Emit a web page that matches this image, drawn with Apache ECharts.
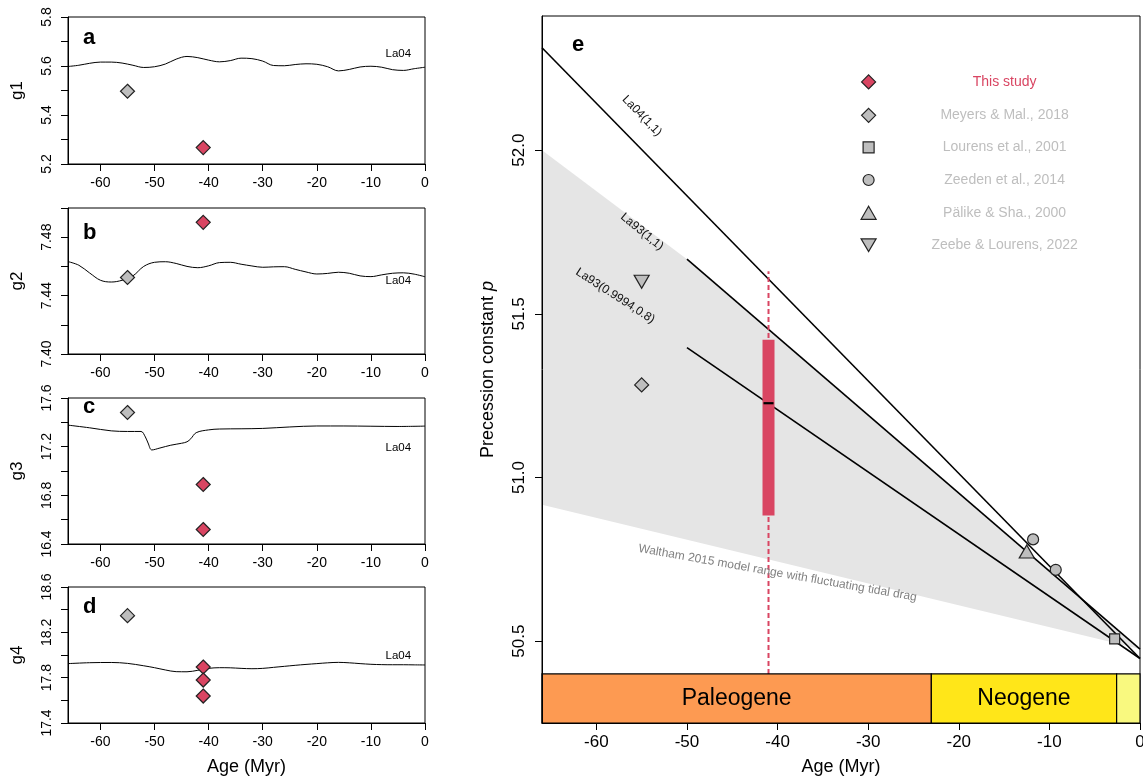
<!DOCTYPE html>
<html>
<head>
<meta charset="utf-8">
<script src="https://cdn.jsdelivr.net/npm/echarts@6/dist/echarts.min.js"></script>
<style>
  html, body { margin: 0; padding: 0; background: #fff; }
  #chart { width: 1143px; height: 778px; }
</style>
</head>
<body>
<div id="chart"></div>
<script>
// ---------------- data ----------------
const ageTicks = [-60, -50, -40, -30, -20, -10, 0];

// La04 secular frequencies g1, g2 ("/yr) on a 2 Myr grid
const la04Age = [-66, -64, -62, -60, -58, -56, -54, -52, -50, -48, -46, -44, -42, -40, -38, -36, -34,
                 -32, -30, -28, -26, -24, -22, -20, -18, -16, -14, -12, -10, -8, -6, -4, -2, 0];
const g1La04 = [5.598, 5.603, 5.611, 5.616, 5.616, 5.612, 5.603, 5.594, 5.597, 5.608, 5.628, 5.639, 5.634,
                5.624, 5.617, 5.622, 5.632, 5.630, 5.620, 5.602, 5.601, 5.606, 5.609, 5.607, 5.597, 5.580,
                5.586, 5.596, 5.599, 5.595, 5.585, 5.582, 5.589, 5.595];
const g2La04 = [7.4633, 7.4608, 7.4555, 7.4505, 7.4493, 7.4505, 7.4535, 7.4600, 7.4628, 7.4632, 7.4620,
                7.4600, 7.4591, 7.4604, 7.4626, 7.4628, 7.4615, 7.4603, 7.4594, 7.4597, 7.4598, 7.4580,
                7.4562, 7.4548, 7.4552, 7.4560, 7.4553, 7.4535, 7.4530, 7.4542, 7.4553, 7.4556, 7.4547, 7.4529];
// g3, g4 (age, value)
const g3La04 = [[-66, 17.377], [-62, 17.355], [-58, 17.330], [-55, 17.325], [-52.5, 17.325], [-51.7, 17.28],
                [-51.2, 17.23], [-50.5, 17.173], [-49, 17.189], [-47, 17.212], [-45, 17.228], [-44, 17.240],
                [-43.3, 17.265], [-42.3, 17.315], [-40, 17.338], [-38, 17.345], [-34, 17.347], [-30, 17.350],
                [-25, 17.362], [-20, 17.370], [-15, 17.370], [-10, 17.368], [-5, 17.366], [0, 17.369]];
const g4La04 = [[-66, 17.924], [-62, 17.932], [-58, 17.934], [-55, 17.926], [-52, 17.905], [-50, 17.888],
                [-48, 17.868], [-46, 17.853], [-44, 17.852], [-42, 17.865], [-40, 17.882], [-38, 17.888],
                [-36, 17.887], [-34, 17.882], [-32, 17.879], [-30, 17.882], [-28, 17.891], [-26, 17.900],
                [-24, 17.909], [-22, 17.917], [-20, 17.924], [-18, 17.931], [-16, 17.935], [-14, 17.931],
                [-12, 17.924], [-10, 17.918], [-8, 17.915], [-6, 17.914], [-4, 17.914], [-2, 17.913], [0, 17.912]];

// geological estimates of g1..g4
const g1Meyers = [[-55, 5.497]];
const g1ThisStudy = [[-41, 5.267]];
const g2Meyers = [[-55, 7.4524]];
const g2ThisStudy = [[-41, 7.4902]];
const g3Meyers = [[-55, 17.481]];
const g3ThisStudy = [[-41, 16.889], [-41, 16.519]];
const g4Meyers = [[-55, 18.347]];
const g4ThisStudy = [[-41, 17.894], [-41, 17.779], [-41, 17.638]];

// tick values of the g panels
const g1Ticks = [5.2, 5.3, 5.4, 5.5, 5.6, 5.7, 5.8];
const g1Labels = [5.2, 5.4, 5.6, 5.8];
const g2Ticks = [7.40, 7.42, 7.44, 7.46, 7.48, 7.50];
const g2Labels = [7.40, 7.44, 7.48];
const g3Ticks = [16.4, 16.6, 16.8, 17.0, 17.2, 17.4, 17.6];
const g3Labels = [16.4, 16.8, 17.2, 17.6];
const g4Ticks = [17.4, 17.6, 17.8, 18.0, 18.2, 18.4, 18.6];
const g4Labels = [17.4, 17.8, 18.2, 18.6];

// precession constant p ("/yr)
const pTicks = [50.5, 51.0, 51.5, 52.0];
const la04P = [[-66, 52.313], [0, 50.447]];
const la93P = [[-50, 51.667], [0, 50.476]];
const la93TidalP = [[-50, 51.397], [0, 50.447]];
const walthamUpper = [[-66, 52.0], [-50, 51.667], [0, 50.476]];
const walthamLower = [[-66, 50.917], [0, 50.476]];
// age, whisker low, box low, median, box high, whisker high
const thisStudyP = [[-41, 50.40, 50.884, 51.227, 51.421, 51.63]];
const meyersP = [[-55, 51.283]];
const lourensP = [[-2.8, 50.507]];
const zeedenP = [[-11.8, 50.811], [-9.3, 50.718]];
const palikeP = [[-12.5, 50.774]];
const zeebeP = [[-55, 51.598]];

// geological periods (Ma)
const periodNames = ['Paleogene', 'Neogene', ''];
const periodStart = [-66, -23.03, -2.58];
const periodEnd = [-23.03, -2.58, 0];

// ---------------- styles ----------------
const FONT = "'Liberation Sans', Arial, Helvetica, sans-serif";
const RED = '#D94562';
const GRAY = '#BEBEBE';
const EDGE = '#222222';
const SHADE = '#E5E5E5';
const periodColors = ['#FD9A52', '#FFE619', '#F9F97F'];
const DOWN_TRI = 'path://M0,0L20,0L10,17Z';
const GEO_TOP = 50.40, GEO_BOTTOM = 50.25;

const zip = (xs, ys) => xs.map((x, i) => [x, ys[i]]);

const gridsLeft = [
  { left: 68, top: 17, width: 357, height: 147 },
  { left: 68, top: 208, width: 357, height: 146 },
  { left: 68, top: 398, width: 357, height: 146 },
  { left: 68, top: 587, width: 357, height: 136 }
];
const gridE = { left: 542, top: 16, width: 598, height: 707 };

const grid = gridsLeft.concat([gridE]).map(g => Object.assign({
  show: true, borderColor: '#000', borderWidth: 1, backgroundColor: 'transparent',
  containLabel: false, outerBoundsMode: 'none'
}, g));

function xAxisFor(idx, o) {
  return {
    type: 'value', gridIndex: idx, min: -66, max: 0, z: 6,
    axisLine: { show: true, onZero: false, lineStyle: { color: '#000', width: 1 } },
    axisTick: { show: true, length: 7, customValues: ageTicks, lineStyle: { color: '#000', width: 1 } },
    axisLabel: { show: true, customValues: ageTicks, margin: o.margin, fontSize: o.fs, color: '#000',
                 fontFamily: FONT, formatter: v => String(v) },
    splitLine: { show: false },
    name: o.name || '', nameLocation: 'middle', nameGap: 35,
    nameTextStyle: { fontSize: 18, color: '#000', fontFamily: FONT }
  };
}

function yAxisFor(idx, o) {
  return {
    type: 'value', gridIndex: idx, min: o.min, max: o.max, z: 6,
    axisLine: { show: true, onZero: false, lineStyle: { color: '#000', width: 1 } },
    axisTick: { show: true, length: 7, customValues: o.ticks, lineStyle: { color: '#000', width: 1 } },
    axisLabel: { show: true, customValues: o.labels, rotate: 90, margin: o.margin, fontSize: o.fs,
                 color: '#000', fontFamily: FONT, formatter: v => v.toFixed(o.dec) },
    splitLine: { show: false },
    name: o.name, nameLocation: 'middle', nameRotate: 90, nameGap: o.nameGap,
    nameTextStyle: o.nameStyle || { fontSize: 17, color: '#000', fontFamily: FONT }
  };
}

const xAxis = [
  xAxisFor(0, { margin: 12, fs: 14 }),
  xAxisFor(1, { margin: 12, fs: 14 }),
  xAxisFor(2, { margin: 12, fs: 14 }),
  xAxisFor(3, { margin: 12, fs: 14, name: 'Age (Myr)' }),
  xAxisFor(4, { margin: 11, fs: 17, name: 'Age (Myr)' })
];

const yAxis = [
  yAxisFor(0, { min: 5.2, max: 5.8, ticks: g1Ticks, labels: g1Labels, dec: 1, margin: 14, fs: 14, name: 'g1', nameGap: 42 }),
  yAxisFor(1, { min: 7.40, max: 7.50, ticks: g2Ticks, labels: g2Labels, dec: 2, margin: 14, fs: 14, name: 'g2', nameGap: 42 }),
  yAxisFor(2, { min: 16.4, max: 17.6, ticks: g3Ticks, labels: g3Labels, dec: 1, margin: 14, fs: 14, name: 'g3', nameGap: 42 }),
  yAxisFor(3, { min: 17.4, max: 18.6, ticks: g4Ticks, labels: g4Labels, dec: 1, margin: 14, fs: 14, name: 'g4', nameGap: 42 }),
  yAxisFor(4, { min: GEO_BOTTOM, max: 52.41, ticks: pTicks, labels: pTicks, dec: 1, margin: 14, fs: 17,
    name: '{n|Precession constant }{i|p}', nameGap: 45,
    nameStyle: { fontSize: 18, color: '#000', fontFamily: FONT,
      rich: { n: { fontSize: 18, fontFamily: FONT, color: '#000' },
              i: { fontSize: 18, fontFamily: FONT, color: '#000', fontStyle: 'italic' } } } })
];

function la04Label(pos) {
  return {
    symbol: 'circle', symbolSize: 0, silent: true, itemStyle: { color: 'transparent' },
    label: { show: true, position: 'inside', formatter: 'La04', fontSize: 11.5, color: '#000', fontFamily: FONT },
    data: [{ coord: pos }]
  };
}

function lineLabel(text, pos, rot, color, fs) {
  return {
    symbol: 'circle', symbolSize: 0, silent: true, itemStyle: { color: 'transparent' },
    label: { show: true, position: 'inside', formatter: text, rotate: rot, fontSize: fs || 12,
             color: color || '#111', fontFamily: FONT },
    data: [{ coord: pos }]
  };
}

function gLine(idx, data, labelPos) {
  return {
    type: 'line', xAxisIndex: idx, yAxisIndex: idx, data: data, smooth: 0.35, symbol: 'none',
    lineStyle: { color: '#000', width: 1 }, z: 2, silent: true, markPoint: la04Label(labelPos)
  };
}

function marker(idx, name, data, symbol, size, fill) {
  return {
    type: 'scatter', name: name, xAxisIndex: idx, yAxisIndex: idx, data: data, symbol: symbol,
    symbolSize: size, itemStyle: { color: fill, borderColor: EDGE, borderWidth: 1.2, opacity: 1 }, z: 4
  };
}

function pLine(data, markPoint) {
  return {
    type: 'line', xAxisIndex: 4, yAxisIndex: 4, data: data, symbol: 'none', silent: true,
    lineStyle: { color: '#000', width: 1.6 }, z: 3, markPoint: markPoint
  };
}

const series = [
  // g panels
  marker(0, 'This study', g1ThisStudy, 'diamond', 14, RED),
  marker(0, 'Meyers & Mal., 2018', g1Meyers, 'diamond', 14, GRAY),
  gLine(0, zip(la04Age, g1La04), [-4.94, 5.649]),
  gLine(1, zip(la04Age, g2La04), [-4.94, 7.4499]),
  marker(1, 'Meyers & Mal., 2018', g2Meyers, 'diamond', 14, GRAY),
  marker(1, 'This study', g2ThisStudy, 'diamond', 14, RED),
  gLine(2, g3La04, [-4.94, 17.193]),
  marker(2, 'Meyers & Mal., 2018', g3Meyers, 'diamond', 14, GRAY),
  marker(2, 'This study', g3ThisStudy, 'diamond', 14, RED),
  gLine(3, g4La04, [-4.94, 17.997]),
  marker(3, 'Meyers & Mal., 2018', g4Meyers, 'diamond', 14, GRAY),
  marker(3, 'This study', g4ThisStudy, 'diamond', 14, RED),

  // panel e: Waltham (2015) model envelope
  {
    type: 'custom', xAxisIndex: 4, yAxisIndex: 4, data: [[-66, 52.0]], z: 1, silent: true,
    renderItem: (params, api) => {
      const pts = walthamUpper.map(p => api.coord(p))
        .concat(walthamLower.slice().reverse().map(p => api.coord(p)));
      return { type: 'polygon', shape: { points: pts }, style: { fill: SHADE } };
    },
    markPoint: lineLabel('Waltham 2015 model range with fluctuating tidal drag', [-40.0, 50.708], -10, '#808080', 12)
  },
  pLine(la04P, lineLabel('La04(1,1)', [-54.97, 52.105], -46)),
  pLine(la93P, lineLabel('La93(1,1)', [-54.97, 51.751], -39)),
  pLine(la93TidalP, lineLabel('La93(0.9994,0.8)', [-57.92, 51.555], -33)),

  // this study: p range
  {
    type: 'custom', xAxisIndex: 4, yAxisIndex: 4, data: thisStudyP, z: 5, silent: true,
    encode: { x: 0, y: [1, 2, 3, 4, 5] },
    renderItem: (params, api) => {
      const x = api.value(0);
      const wLo = api.coord([x, api.value(1)]);
      const bLo = api.coord([x, api.value(2)]);
      const med = api.coord([x, api.value(3)]);
      const bHi = api.coord([x, api.value(4)]);
      const wHi = api.coord([x, api.value(5)]);
      return {
        type: 'group', children: [
          { type: 'line', shape: { x1: wLo[0], y1: wLo[1], x2: wHi[0], y2: wHi[1] },
            style: { stroke: RED, lineWidth: 2, lineDash: [5, 3] } },
          { type: 'rect', shape: { x: bHi[0] - 6, y: bHi[1], width: 12, height: bLo[1] - bHi[1] },
            style: { fill: RED } },
          { type: 'line', shape: { x1: med[0] - 5, y1: med[1], x2: med[0] + 5, y2: med[1] },
            style: { stroke: '#000', lineWidth: 2.2 } }
        ]
      };
    }
  },

  marker(4, 'Meyers & Mal., 2018', meyersP, 'diamond', 14, GRAY),
  marker(4, 'Lourens et al., 2001', lourensP, 'rect', 10, GRAY),
  marker(4, 'Zeeden et al., 2014', zeedenP, 'circle', 11, GRAY),
  marker(4, 'Pälike & Sha., 2000', palikeP, 'triangle', [15, 13], GRAY),
  marker(4, 'Zeebe & Lourens, 2022', zeebeP, DOWN_TRI, [15, 13], GRAY),

  // geological time scale
  {
    type: 'custom', xAxisIndex: 4, yAxisIndex: 4, z: 5, silent: true,
    data: periodStart.map((s, i) => [s, periodEnd[i], i]),
    renderItem: (params, api) => {
      const i = api.value(2);
      const p0 = api.coord([api.value(0), GEO_TOP]);
      const p1 = api.coord([api.value(1), GEO_BOTTOM]);
      return {
        type: 'group', children: [
          { type: 'rect', shape: { x: p0[0], y: p0[1], width: p1[0] - p0[0], height: p1[1] - p0[1] },
            style: { fill: periodColors[i], stroke: '#000', lineWidth: 1.2 } },
          { type: 'text', style: { text: periodNames[i], x: (p0[0] + p1[0]) / 2, y: (p0[1] + p1[1]) / 2,
            align: 'center', verticalAlign: 'middle', fill: '#000', font: '23px ' + FONT } }
        ]
      };
    }
  }
];

// legend of panel e: one row per source
const legendRows = [
  { name: 'This study', icon: 'diamond', w: 14, h: 14, fill: RED, text: RED },
  { name: 'Meyers & Mal., 2018', icon: 'diamond', w: 14, h: 14, fill: GRAY, text: GRAY },
  { name: 'Lourens et al., 2001', icon: 'rect', w: 11, h: 11, fill: GRAY, text: GRAY },
  { name: 'Zeeden et al., 2014', icon: 'circle', w: 11, h: 11, fill: GRAY, text: GRAY },
  { name: 'Pälike & Sha., 2000', icon: 'triangle', w: 15, h: 13, fill: GRAY, text: GRAY },
  { name: 'Zeebe & Lourens, 2022', icon: DOWN_TRI, w: 15, h: 13, fill: GRAY, text: GRAY }
];
const legendY = [82.3, 115.7, 148.3, 181, 213.7, 246.3];
const legendIconX = 868, legendTextX = 1004;

const legend = legendRows.map((r, k) => ({
  show: true, orient: 'horizontal', padding: 0, itemGap: 0, selectedMode: false,
  left: legendIconX - r.w / 2, top: legendY[k] - 8,
  itemWidth: r.w, itemHeight: r.h,
  data: [{ name: r.name, icon: r.icon,
           itemStyle: { color: r.fill, borderColor: EDGE, borderWidth: 1.2 },
           textStyle: { color: r.text } }],
  formatter: n => '{t|' + n + '}',
  textStyle: { fontSize: 14, fontFamily: FONT, color: r.text,
    rich: { t: { width: 2 * (legendTextX - legendIconX - r.w / 2 - 5), align: 'center', fontSize: 14,
                 lineHeight: 16, fontFamily: FONT, color: r.text } } }
}));

// panel letters
const letter = (t, x, y) => ({ type: 'text', left: x, top: y, silent: true,
  style: { text: t, fontSize: 22, fontWeight: 'bold', fontFamily: FONT, fill: '#000' } });

const option = {
  animation: false,
  backgroundColor: '#fff',
  textStyle: { fontFamily: FONT },
  grid: grid,
  xAxis: xAxis,
  yAxis: yAxis,
  legend: legend,
  series: series,
  graphic: [
    letter('a', 83, 27),
    letter('b', 83, 222),
    letter('c', 83, 396),
    letter('d', 83, 596),
    letter('e', 572, 34)
  ]
};

const chart = echarts.init(document.getElementById('chart'), null, { renderer: 'canvas' });
chart.setOption(option);
</script>
</body>
</html>
